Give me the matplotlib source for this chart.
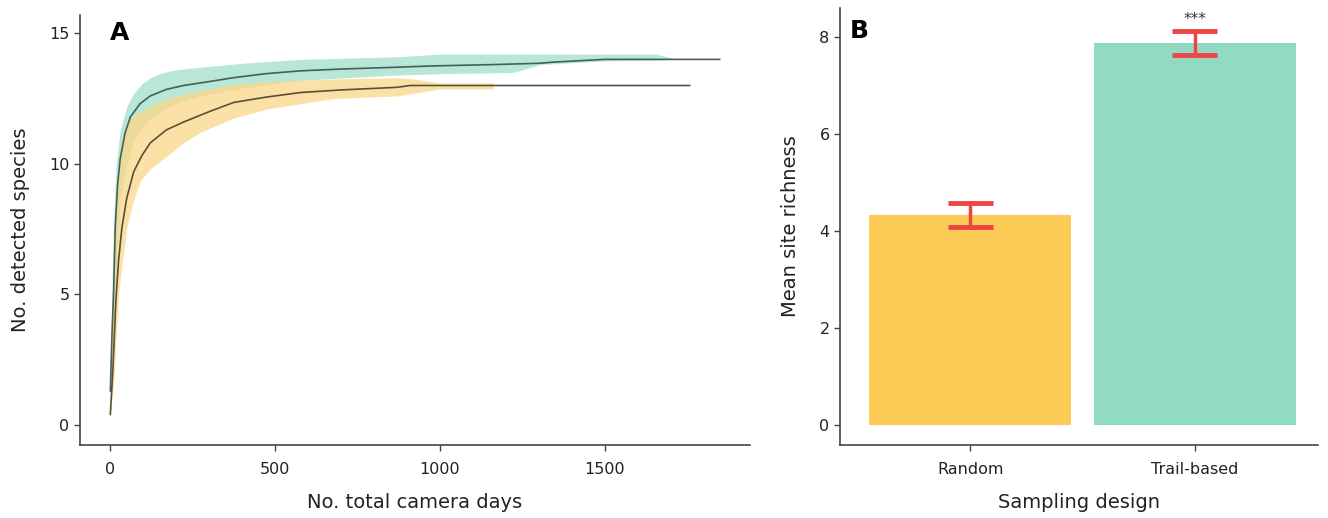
import matplotlib
matplotlib.use("Agg")
import matplotlib.pyplot as plt
import numpy as np

# ---- Panel A data: accumulation curves ----
trail_days = [0, 5, 10, 15, 22, 30, 45, 61, 90, 121, 170, 222, 300, 374, 470, 576, 700, 869, 979, 1158, 1300, 1350, 1500, 1848]
trail_mean = [1.3, 3.5, 5.1, 7.6, 9.2, 10.2, 11.2, 11.8, 12.3, 12.6, 12.85, 13.0, 13.15, 13.3, 13.45, 13.56, 13.63, 13.7, 13.75, 13.8, 13.85, 13.9, 14.0, 14.0]

trail_ci_days = [0, 5, 10, 18, 30, 50, 71, 95, 121, 160, 200, 273, 400, 576, 869, 1000, 1222, 1303, 1509, 1657, 1718]
trail_upper = [1.5, 5.5, 7.9, 10.0, 11.3, 12.2, 12.7, 13.05, 13.3, 13.5, 13.6, 13.7, 13.85, 14.0, 14.1, 14.2, 14.2, 14.2, 14.2, 14.2, 14.0]
trail_lower = [1.0, 2.5, 3.5, 6.0, 8.7, 10.0, 10.9, 11.35, 11.7, 12.05, 12.3, 12.6, 12.9, 13.2, 13.4, 13.45, 13.5, 13.8, 13.95, 13.97, 14.0]

random_days = [0, 5, 8, 17, 25, 35, 50, 71, 95, 121, 170, 222, 300, 374, 470, 576, 700, 869, 909, 1757]
random_mean = [0.4, 1.5, 2.2, 4.8, 6.3, 7.55, 8.7, 9.7, 10.3, 10.8, 11.3, 11.6, 12.0, 12.35, 12.55, 12.73, 12.83, 12.93, 13.0, 13.0]

random_ci_days = [0, 5, 10, 18, 25, 36, 50, 70, 91, 121, 172, 220, 273, 374, 475, 677, 869, 918, 1000, 1161]
random_upper = [0.6, 4.0, 6.0, 8.5, 10.0, 11.0, 11.5, 11.85, 12.0, 12.2, 12.5, 12.65, 12.8, 13.05, 13.15, 13.25, 13.3, 13.25, 13.1, 13.1]
random_lower = [0.3, 1.0, 1.5, 3.5, 5.0, 6.2, 7.55, 8.6, 9.35, 9.8, 10.3, 10.8, 11.2, 11.75, 12.1, 12.5, 12.6, 12.7, 12.87, 12.87]

x_ticks_A = [0, 500, 1000, 1500]
y_ticks_A = [0, 5, 10, 15]

# ---- Panel B data ----
designs = ["Random", "Trail-based"]
richness = [4.33, 7.88]
err_low = [4.08, 7.63]
err_high = [4.58, 8.12]
y_ticks_B = [0, 2, 4, 6, 8]

GREEN = "#91DBC3"
ORANGE = "#FCCB56"
GREEN_RIB = "#A6E2CE"
ORANGE_RIB = "#FCD889"
RED = "#EE4444"
AXC = "#444444"

fig = plt.figure(figsize=(13.28, 5.18), dpi=100)
W, H = 1328, 518
axA = fig.add_axes([80 / W, 1 - 445 / H, (750 - 80) / W, (445 - 15) / H])
axB = fig.add_axes([840 / W, 1 - 445 / H, (1318 - 840) / W, (445 - 8) / H])

# Panel A
axA.fill_between(trail_ci_days, trail_lower, trail_upper, color=GREEN_RIB, alpha=0.8, lw=0)
axA.fill_between(random_ci_days, random_lower, random_upper, color=ORANGE_RIB, alpha=0.75, lw=0)
axA.plot(trail_days, trail_mean, color="#2e4a44", alpha=0.85, lw=1.2)
axA.plot(random_days, random_mean, color="#3d3524", alpha=0.85, lw=1.2)
axA.set_xlim(-92, 1940)
axA.set_ylim(-0.77, 15.7)
axA.set_xticks(x_ticks_A)
axA.set_yticks(y_ticks_A)
axA.set_xlabel("No. total camera days", fontsize=14, labelpad=12, color="#222222")
axA.set_ylabel("No. detected species", fontsize=14, labelpad=14, color="#222222")
axA.text(0.045, 0.985, "A", transform=axA.transAxes, fontsize=18, fontweight="bold", va="top", ha="left")

# Panel B
xpos = np.arange(len(designs))
axB.bar(xpos, richness, width=0.9, color=[ORANGE, GREEN])
for xi, lo, hi in zip(xpos, err_low, err_high):
    axB.plot([xi, xi], [lo, hi], color=RED, lw=2.5, solid_capstyle="butt")
    axB.plot([xi - 0.1, xi + 0.1], [lo, lo], color=RED, lw=3.5, solid_capstyle="butt")
    axB.plot([xi - 0.1, xi + 0.1], [hi, hi], color=RED, lw=3.5, solid_capstyle="butt")
axB.text(xpos[1], err_high[1] + 0.08, "***", ha="center", va="bottom", fontsize=11, color="#333333")
axB.set_xlim(-0.58, 1.55)
axB.set_ylim(-0.41, 8.6)
axB.set_xticks(xpos)
axB.set_xticklabels(designs)
axB.set_yticks(y_ticks_B)
axB.set_xlabel("Sampling design", fontsize=14, labelpad=12, color="#222222")
axB.set_ylabel("Mean site richness", fontsize=14, labelpad=14, color="#222222")
axB.text(0.021, 0.975, "B", transform=axB.transAxes, fontsize=18, fontweight="bold", va="top", ha="left")

for ax in (axA, axB):
    for s in ("top", "right"):
        ax.spines[s].set_visible(False)
    for s in ("left", "bottom"):
        ax.spines[s].set_color(AXC)
        ax.spines[s].set_linewidth(1.2)
    ax.tick_params(axis="both", colors=AXC, labelcolor="#222222", labelsize=11.5, length=4, width=1)
    ax.tick_params(axis="x", pad=8)

fig.savefig("out.png", dpi=100)
